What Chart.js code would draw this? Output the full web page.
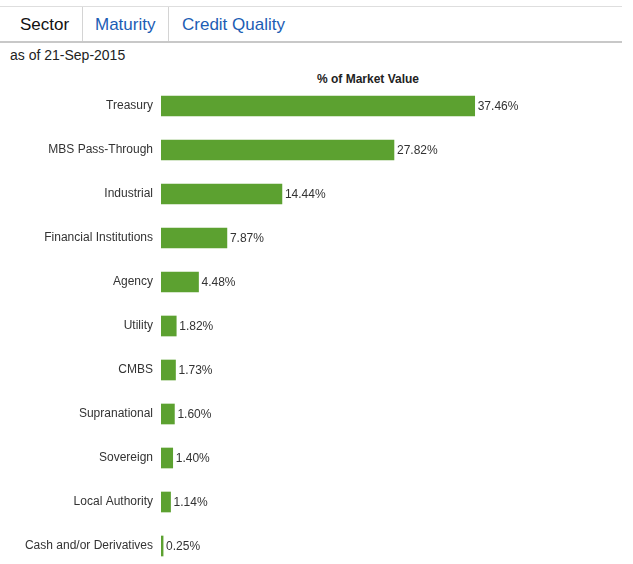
<!DOCTYPE html>
<html>
<head>
<meta charset="utf-8">
<script src="https://cdn.jsdelivr.net/npm/chart.js@4.4.0/dist/chart.umd.min.js"></script>
<style>
  html, body { margin: 0; padding: 0; background: #fff; overflow: hidden; }
  body { width: 633px; height: 564px; position: relative; font-family: "Liberation Sans", Arial, Helvetica, sans-serif; }
  .topline { position: absolute; left: 0; top: 6px; width: 622px; height: 1px; background: #dedede; }
  .tabline { position: absolute; left: 0; top: 41px; width: 622px; height: 2px; background: #c8c8c8; }
  .sep { position: absolute; top: 7px; width: 1px; height: 34px; background: #d4d4d4; }
  .tab { position: absolute; top: 15px; font-size: 17px; line-height: 20px; color: #1c5db4; }
  .tab.active { color: #111; }
  .asof { position: absolute; left: 10px; top: 46px; font-size: 14px; line-height: 18px; color: #222; }
  .ctitle { position: absolute; left: 268px; width: 200px; top: 72px; text-align: center; font-size: 12px; font-weight: bold; color: #222; }
  #sectorChart { position: absolute; left: 0; top: 84px; }
</style>
</head>
<body>
<div class="topline"></div>
<div class="sep" style="left:82px"></div>
<div class="sep" style="left:168px"></div>
<span class="tab active" style="left:20px">Sector</span>
<span class="tab" style="left:95px">Maturity</span>
<span class="tab" style="left:182px">Credit Quality</span>
<div class="tabline"></div>
<div class="asof">as of 21-Sep-2015</div>
<div class="ctitle">% of Market Value</div>
<canvas id="sectorChart" width="633" height="484"></canvas>

<script>
// datos del gráfico
const sectores = ['Treasury', 'MBS Pass-Through', 'Industrial', 'Financial Institutions', 'Agency',
    'Utility', 'CMBS', 'Supranational', 'Sovereign', 'Local Authority', 'Cash and/or Derivatives'];
const pesos = [37.46, 27.82, 14.44, 7.87, 4.48, 1.82, 1.73, 1.60, 1.40, 1.14, 0.25];

const fuente = '"Liberation Sans", Arial, Helvetica, sans-serif';

// etiqueta con el % al final de cada barra
const etiquetasPlugin = {
    id: 'etiquetas',
    afterDatasetsDraw(chart) {
        const ctx = chart.ctx;
        const meta = chart.getDatasetMeta(0);
        ctx.save();
        ctx.font = '12px ' + fuente;
        ctx.fillStyle = '#333';
        ctx.textBaseline = 'middle';
        ctx.textAlign = 'left';
        meta.data.forEach((bar, i) => {
            ctx.fillText(pesos[i].toFixed(2) + '%', bar.x + 3, bar.y + 1);
        });
        ctx.restore();
    }
};

new Chart(document.getElementById('sectorChart').getContext('2d'), {
    type: 'bar',
    data: {
        labels: sectores,
        datasets: [{
            data: pesos,
            backgroundColor: '#5ca130',
            barThickness: 20,
            borderWidth: 0
        }]
    },
    options: {
        indexAxis: 'y',
        responsive: false,
        animation: false,
        layout: { padding: { left: 0, right: 12, top: 0, bottom: 0 } },
        plugins: { legend: { display: false }, tooltip: { enabled: false }, title: { display: false } },
        scales: {
            x: { display: false, min: 0, max: 54.93 },
            y: {
                afterFit(scale) { scale.width = 161; scale.paddingTop = 0; scale.paddingBottom = 0; },
                grid: { display: false, drawTicks: false },
                border: { display: false },
                ticks: { padding: 8, color: '#333', font: { size: 12, family: fuente } }
            }
        }
    },
    plugins: [etiquetasPlugin]
});
</script>
</body>
</html>
